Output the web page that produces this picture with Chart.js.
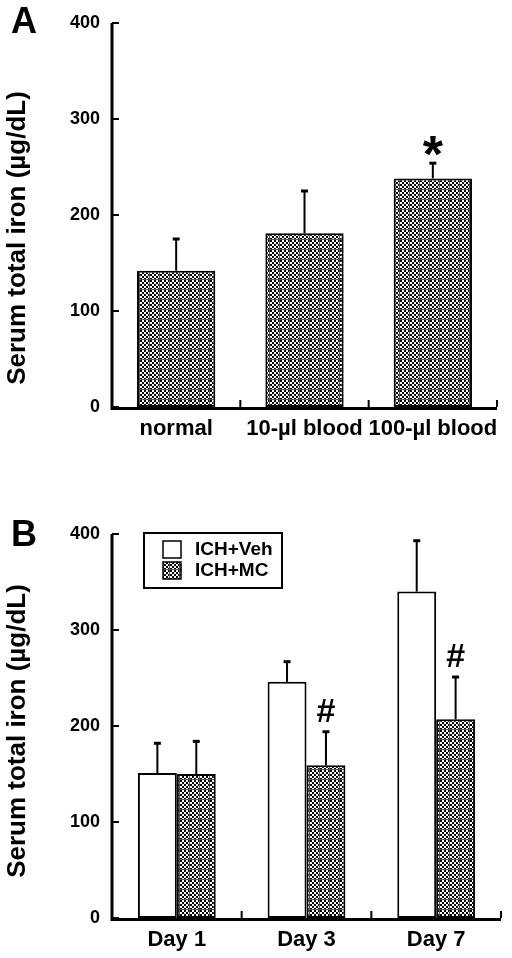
<!DOCTYPE html>
<html>
<head>
<meta charset="utf-8">
<script src="https://cdn.jsdelivr.net/npm/chart.js@4.4.0/dist/chart.umd.min.js"></script>
<style>
  body { margin: 0; background: #fff; }
  canvas { position: absolute; left: 0; }
  #chartA { top: 0; }
  #chartB { top: 470px; }
</style>
</head>
<body>
<canvas id="chartA" width="512" height="470"></canvas>
<canvas id="chartB" width="512" height="488"></canvas>
<script>
// panel A
const groupsA = ["normal", "10-\u00b5l blood", "100-\u00b5l blood"];
const meanA = [142, 181, 238];
const sdA = [33, 44, 16];
const marksA = ["", "", "*"];

// panel B
const daysB = ["Day 1", "Day 3", "Day 7"];
const vehMean = [151, 246, 340];
const vehSD = [31, 21, 53];
const mcMean = [150, 159, 207];
const mcSD = [34, 35, 44];
const mcMarks = ["", "#", "#"];

const yTicks = [0, 100, 200, 300, 400];
const yTitle = "Serum total iron (\u00b5g/dL)";
const FONT = "'Liberation Sans', Arial, sans-serif";

// checkered fill like the scanned figure
function checkPattern(ctx) {
  const c = document.createElement("canvas");
  c.width = 10; c.height = 10;
  const g = c.getContext("2d");
  g.fillStyle = "#fff";
  g.fillRect(0, 0, 10, 10);
  for (let y = 0; y < 10; y++) {
    for (let x = 0; x < 10; x++) {
      if (x == 9 || y == 9) {
        g.fillStyle = "#555";
        g.fillRect(x, y, 1, 1);
      } else if ((Math.floor(x / 2) + Math.floor(y / 2)) % 2 == 0) {
        g.fillStyle = "#000";
        g.fillRect(x, y, 1, 1);
      }
    }
  }
  return ctx.createPattern(c, "repeat");
}

// axes with inward ticks, error bars, marks, panel letter, y title, legend
const figure = {
  id: "figure",
  afterDatasetsDraw(chart, args, opts) {
    const ctx = chart.ctx;
    const ys = chart.scales.y;
    const xs = chart.scales.x;
    const a = chart.chartArea;
    ctx.save();
    ctx.strokeStyle = "#000";

    // error bars + significance marks
    chart.data.datasets.forEach((ds, i) => {
      const meta = chart.getDatasetMeta(i);
      meta.data.forEach((bar, j) => {
        const top = ys.getPixelForValue(ds.data[j] + ds.errors[j]);
        ctx.lineWidth = 2;
        ctx.beginPath();
        ctx.moveTo(bar.x, bar.y);
        ctx.lineTo(bar.x, top);
        ctx.stroke();
        ctx.lineWidth = 3;
        ctx.beginPath();
        ctx.moveTo(bar.x - 3.5, top);
        ctx.lineTo(bar.x + 3.5, top);
        ctx.stroke();
        const m = ds.marks ? ds.marks[j] : "";
        if (m) {
          ctx.fillStyle = "#000";
          ctx.textAlign = "center";
          ctx.textBaseline = "alphabetic";
          if (m == "*") {
            ctx.font = "bold 52px " + FONT;
            ctx.fillText(m, bar.x, top + 9);
          } else {
            ctx.font = "bold 34px " + FONT;
            ctx.fillText(m, bar.x, top - 10);
          }
        }
      });
    });

    // axis lines
    ctx.lineWidth = 3;
    ctx.beginPath();
    ctx.moveTo(a.left, ys.getPixelForValue(400));
    ctx.lineTo(a.left, a.bottom + 1.5);
    ctx.lineTo(a.right, a.bottom + 1.5);
    ctx.stroke();
    ctx.lineWidth = 2;
    ctx.beginPath();
    yTicks.forEach(v => {
      const py = ys.getPixelForValue(v);
      ctx.moveTo(a.left, py);
      ctx.lineTo(a.left + 7, py);
    });
    const half = (xs.getPixelForValue(1) - xs.getPixelForValue(0)) / 2;
    chart.data.labels.forEach((l, i) => {
      const px = xs.getPixelForValue(i) + half;
      ctx.moveTo(px, a.bottom);
      ctx.lineTo(px, a.bottom - 7);
    });
    ctx.stroke();

    // panel letter
    ctx.fillStyle = "#000";
    ctx.textAlign = "center";
    ctx.textBaseline = "middle";
    ctx.font = "bold 36px " + FONT;
    ctx.fillText(opts.letter, opts.letterX, opts.letterY);

    // y title
    ctx.save();
    ctx.translate(opts.titleX, opts.titleY);
    ctx.rotate(-Math.PI / 2);
    ctx.font = "bold 26px " + FONT;
    ctx.fillText(yTitle, 0, 0);
    ctx.restore();

    // legend box
    if (opts.legend) {
      const lx = a.left + 32, ly = a.top - 1;
      ctx.lineWidth = 2;
      ctx.strokeRect(lx, ly, 138, 55);
      chart.data.datasets.forEach((ds, i) => {
        const sy = ly + 8 + i * 21;
        ctx.fillStyle = ds.backgroundColor;
        ctx.fillRect(lx + 19, sy, 18, 17);
        ctx.lineWidth = 1.5;
        ctx.strokeRect(lx + 19, sy, 18, 17);
        ctx.fillStyle = "#000";
        ctx.textAlign = "left";
        ctx.textBaseline = "middle";
        ctx.font = "bold 19px " + FONT;
        ctx.fillText(ds.label, lx + 51, sy + 9);
      });
    }
    ctx.restore();
  }
};

function makeScales(xHeight) {
  return {
    x: {
      grid: { display: false, drawTicks: false },
      border: { display: false },
      ticks: {
        color: "#000", padding: 9, autoSkip: false, maxRotation: 0, minRotation: 0,
        font: { family: FONT, size: 22, weight: "bold" }
      },
      afterFit(s) { s.height = xHeight; }
    },
    y: {
      min: 0,
      max: 400,
      grid: { display: false, drawTicks: false },
      border: { display: false },
      ticks: { stepSize: 100, color: "#000", padding: 12, font: { family: FONT, size: 18, weight: "bold" } },
      afterFit(s) { s.width = 112; }
    }
  };
}

const ctxA = document.getElementById("chartA").getContext("2d");
new Chart(ctxA, {
  type: "bar",
  data: {
    labels: groupsA,
    datasets: [{
      label: "iron",
      data: meanA,
      errors: sdA,
      marks: marksA,
      backgroundColor: checkPattern(ctxA),
      borderColor: "#000",
      borderWidth: 2,
      borderSkipped: false,
      categoryPercentage: 0.61,
      barPercentage: 1
    }]
  },
  options: {
    responsive: false,
    animation: false,
    devicePixelRatio: 1,
    layout: { padding: { top: 23, right: 15, left: 0, bottom: 0 } },
    scales: makeScales(63),
    plugins: {
      legend: { display: false },
      tooltip: { enabled: false },
      figure: { letter: "A", letterX: 24, letterY: 23, titleX: 18, titleY: 238, legend: false }
    }
  },
  plugins: [figure]
});

const ctxB = document.getElementById("chartB").getContext("2d");
new Chart(ctxB, {
  type: "bar",
  data: {
    labels: daysB,
    datasets: [
      {
        label: "ICH+Veh",
        data: vehMean,
        errors: vehSD,
        backgroundColor: "#fff",
        borderColor: "#000",
        borderWidth: 2,
        borderSkipped: false,
        categoryPercentage: 0.6,
        barPercentage: 1
      },
      {
        label: "ICH+MC",
        data: mcMean,
        errors: mcSD,
        marks: mcMarks,
        backgroundColor: checkPattern(ctxB),
        borderColor: "#000",
        borderWidth: 2,
        borderSkipped: false,
        categoryPercentage: 0.6,
        barPercentage: 1
      }
    ]
  },
  options: {
    responsive: false,
    animation: false,
    devicePixelRatio: 1,
    layout: { padding: { top: 64, right: 11, left: 0, bottom: 0 } },
    scales: makeScales(40),
    plugins: {
      legend: { display: false },
      tooltip: { enabled: false },
      figure: { letter: "B", letterX: 24, letterY: 66, titleX: 18, titleY: 261, legend: true }
    }
  },
  plugins: [figure]
});
</script>
</body>
</html>
